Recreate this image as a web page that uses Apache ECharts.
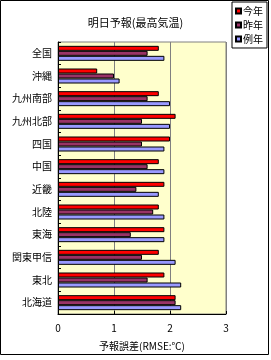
<!DOCTYPE html>
<html>
<head>
<meta charset="utf-8">
<script src="https://cdn.jsdelivr.net/npm/echarts@6/dist/echarts.min.js"></script>
<style>
html,body{margin:0;padding:0;background:#fff;}
#main1{width:271px;height:360px;}
</style>
</head>
<body>
<div id="main1"></div>
<script>
var regions = ['全国','沖縄','九州南部','九州北部','四国','中国','近畿','北陸','東海','関東甲信','東北','北海道'];
var seriesNames = ['今年','昨年','例年'];
var thisYear = [1.8,0.7,1.8,2.1,2.0,1.8,1.9,1.8,1.9,1.8,1.9,2.1];
var lastYear = [1.6,1.0,1.6,1.5,1.5,1.6,1.4,1.7,1.3,1.5,1.6,2.1];
var normalYear = [1.9,1.1,2.0,2.0,1.9,1.9,1.8,1.9,1.9,2.1,2.2,2.2];
var xTicks = ['0','1','2','3'];

var font = '"Noto Sans CJK JP", sans-serif';
var color = ['#FF0000','#993366','#9999FF'];
var allData = [thisYear, lastYear, normalYear];

function makeSeries(){
	var series = [];
	for (var i = 0; i < allData.length; i++){
		series.push({
			name: seriesNames[i],
			type: 'bar',
			barWidth: 5,
			barGap: '0%',
			data: allData[i],
			itemStyle: {
				color: color[i],
				borderColor: '#000',
				borderWidth: 1
			}
		});
	}
	return series;
}

var myChart = echarts.init(document.getElementById('main1'));

var option = {
	animation: false,
	textStyle: {fontFamily: font},
	title: {
		text: '明日予報(最高気温)',
		left: 'center',
		top: 12,
		textStyle: {fontSize: 11, fontWeight: 'normal', color: '#000', fontFamily: font}
	},
	legend: {
		orient: 'vertical',
		left: 232,
		top: 2,
		data: seriesNames,
		icon: 'rect',
		itemWidth: 5,
		itemHeight: 5,
		itemGap: 4,
		padding: [4, 4, 4, 3],
		borderColor: '#000',
		borderWidth: 1,
		textStyle: {fontSize: 10, color: '#000', fontFamily: font, padding: [0, 0, 0, -3]}
	},
	grid: {
		left: 58,
		top: 42,
		width: 168,
		height: 272,
		show: true,
		backgroundColor: '#FFFFCC',
		borderColor: '#808080',
		borderWidth: 1
	},
	xAxis: {
		type: 'value',
		min: 0,
		max: 3,
		interval: 1,
		name: '予報誤差(RMSE:℃)',
		nameLocation: 'middle',
		nameGap: 27,
		nameTextStyle: {fontSize: 10, color: '#000', fontFamily: font},
		axisLine: {show: true, lineStyle: {color: '#000'}},
		axisTick: {show: true, inside: true, length: 3, lineStyle: {color: '#000'}},
		axisLabel: {
			fontSize: 10, color: '#000', margin: 9, fontFamily: font,
			formatter: function(v){ return xTicks[Math.round(v)]; }
		},
		splitLine: {show: true, lineStyle: {color: '#808080'}}
	},
	yAxis: {
		type: 'category',
		inverse: true,
		data: regions,
		axisLine: {show: true, lineStyle: {color: '#000'}},
		axisTick: {show: true, inside: true, length: 3, lineStyle: {color: '#000'}},
		axisLabel: {fontSize: 10, color: '#000', margin: 6, fontFamily: font, interval: 0}
	},
	graphic: [{
		type: 'rect',
		shape: {x: 0.5, y: 0.5, width: 268, height: 354},
		style: {fill: 'none', stroke: '#000', lineWidth: 1},
		silent: true
	}],
	series: makeSeries()
};

myChart.setOption(option);
</script>
</body>
</html>
